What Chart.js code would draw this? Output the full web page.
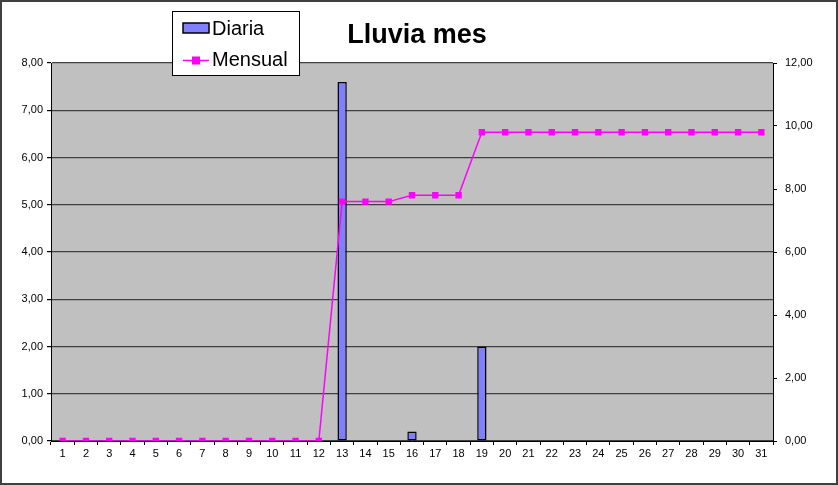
<!DOCTYPE html>
<html>
<head>
<meta charset="utf-8">
<script src="https://cdn.jsdelivr.net/npm/chart.js@4.4.1/dist/chart.umd.min.js"></script>
<style>
    html, body { margin: 0; padding: 0; background: #fff; }
    #contenedor { position: relative; width: 838px; height: 485px; }
</style>
</head>
<body>
<div id="contenedor"><canvas id="graficoLluvia" width="838" height="485"></canvas></div>
<script>
const dias = ['1','2','3','4','5','6','7','8','9','10','11','12','13','14','15','16',
    '17','18','19','20','21','22','23','24','25','26','27','28','29','30','31'];

// lluvia diaria (eje izquierdo)
const diaria = [0,0,0,0,0,0,0,0,0,0,0,0,7.6,0,0,0.2,0,0,2.0,0,0,0,0,0,0,0,0,0,0,0,0];

// acumulado mensual (eje derecho)
const mensual = [0,0,0,0,0,0,0,0,0,0,0,0,7.6,7.6,7.6,7.8,7.8,7.8,
    9.8,9.8,9.8,9.8,9.8,9.8,9.8,9.8,9.8,9.8,9.8,9.8,9.8];

const titulo = 'Lluvia mes';
const nombreDiaria = 'Diaria';
const nombreMensual = 'Mensual';

const fuente = '"Liberation Sans", Arial, sans-serif';

function formatoComa(v) {
    return Number(v).toFixed(2).replace('.', ',');
}

const fondoYMarco = {
    id: 'fondoYMarco',
    beforeDraw(chart) {
        const { ctx, chartArea } = chart;
        ctx.save();
        ctx.fillStyle = '#ffffff';
        ctx.fillRect(0, 0, chart.width, chart.height);
        ctx.fillStyle = '#c0c0c0';
        ctx.fillRect(chartArea.left, chartArea.top, chartArea.right - chartArea.left, chartArea.bottom - chartArea.top);
        ctx.restore();
    },
    afterDraw(chart) {
        const ctx = chart.ctx;
        ctx.save();
        // marco exterior
        ctx.strokeStyle = '#404040';
        ctx.lineWidth = 2;
        ctx.strokeRect(1, 1, chart.width - 2, chart.height - 2);

        // titulo
        ctx.fillStyle = '#000';
        ctx.font = 'bold 27px ' + fuente;
        ctx.textAlign = 'center';
        ctx.textBaseline = 'alphabetic';
        ctx.fillText(titulo, 417, 43);

        // leyenda
        ctx.fillStyle = '#fff';
        ctx.fillRect(172.5, 11.5, 127, 64);
        ctx.strokeStyle = '#000';
        ctx.lineWidth = 1;
        ctx.strokeRect(172.5, 11.5, 127, 64);

        ctx.fillStyle = '#8080ff';
        ctx.fillRect(183, 23, 26, 10);
        ctx.lineWidth = 1.5;
        ctx.strokeRect(183, 23, 26, 10);

        ctx.strokeStyle = '#ff00ff';
        ctx.lineWidth = 1.5;
        ctx.beginPath();
        ctx.moveTo(183, 60.5);
        ctx.lineTo(209, 60.5);
        ctx.stroke();
        ctx.fillStyle = '#ff00ff';
        ctx.fillRect(192, 56.5, 8, 8);

        ctx.fillStyle = '#000';
        ctx.font = '20px ' + fuente;
        ctx.textAlign = 'left';
        ctx.fillText(nombreDiaria, 212, 35);
        ctx.fillText(nombreMensual, 212, 66);
        ctx.restore();
    }
};

const graficoLluvia = new Chart(document.getElementById('graficoLluvia'), {
    type: 'bar',
    data: {
        labels: dias,
        datasets: [
            {
                type: 'line',
                label: nombreMensual,
                data: mensual,
                yAxisID: 'yDerecho',
                borderColor: '#ff00ff',
                backgroundColor: '#ff00ff',
                borderWidth: 1.5,
                pointStyle: 'rect',
                pointRadius: 4.5,
                pointBorderWidth: 0,
                tension: 0,
                order: 1
            },
            {
                type: 'bar',
                label: nombreDiaria,
                data: diaria,
                yAxisID: 'y',
                backgroundColor: '#8080ff',
                borderColor: '#000000',
                borderWidth: (c) => (c.raw > 0 ? 1.5 : 0),
                borderSkipped: false,
                categoryPercentage: 1,
                barPercentage: 0.4,
                order: 2
            }
        ]
    },
    options: {
        responsive: false,
        animation: false,
        events: [],
        layout: { padding: { top: 63, left: 0, right: 0, bottom: 0 } },
        plugins: {
            legend: { display: false },
            title: { display: false },
            tooltip: { enabled: false }
        },
        scales: {
            x: {
                offset: true,
                grid: {
                    offset: true,
                    drawOnChartArea: false,
                    color: '#000',
                    tickLength: 4
                },
                border: { color: '#000', width: 1 },
                ticks: {
                    color: '#000',
                    font: { family: fuente, size: 11 },
                    maxRotation: 0,
                    autoSkip: false,
                    padding: 2
                },
                afterFit(scale) { scale.height = 44; }
            },
            y: {
                position: 'left',
                min: 0,
                max: 8,
                ticks: {
                    stepSize: 1,
                    color: '#000',
                    font: { family: fuente, size: 11 },
                    padding: 4,
                    callback: formatoComa
                },
                grid: {
                    color: '#404040',
                    lineWidth: 1.2,
                    tickLength: 4,
                    tickColor: '#000'
                },
                border: { color: '#000', width: 1 },
                afterFit(scale) { scale.width = 51; }
            },
            yDerecho: {
                position: 'right',
                min: 0,
                max: 12,
                ticks: {
                    stepSize: 2,
                    color: '#000',
                    font: { family: fuente, size: 11 },
                    padding: 8,
                    callback: formatoComa
                },
                grid: {
                    drawOnChartArea: false,
                    tickLength: 4,
                    color: '#000'
                },
                border: { color: '#000', width: 1 },
                afterFit(scale) { scale.width = 65; }
            }
        }
    },
    plugins: [fondoYMarco]
});
</script>
</body>
</html>
